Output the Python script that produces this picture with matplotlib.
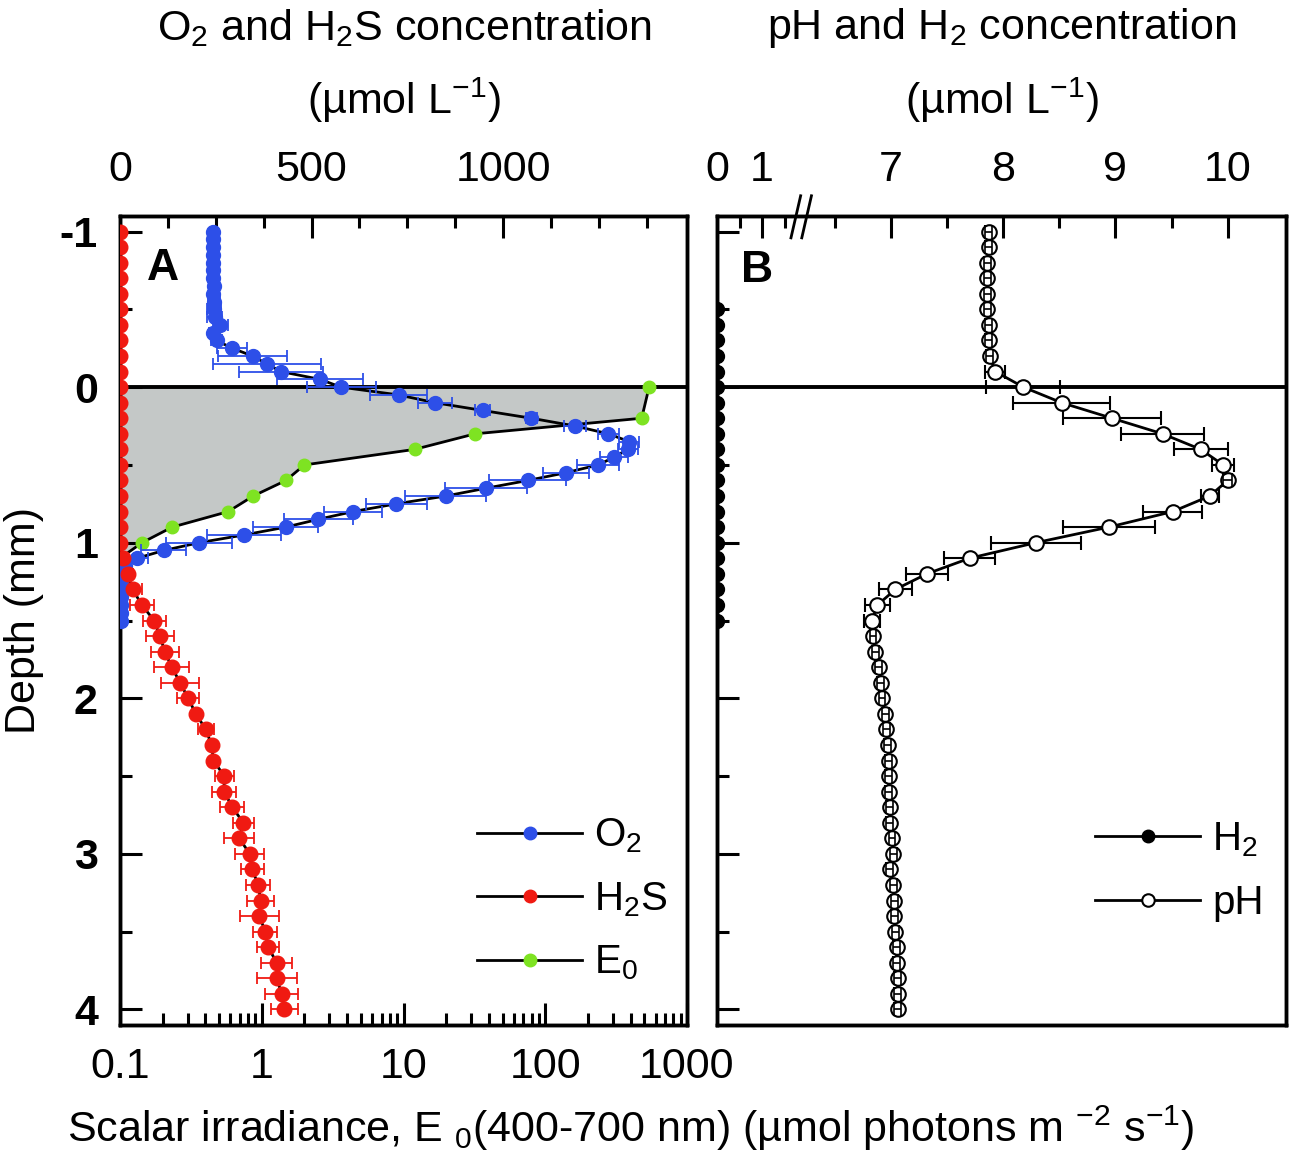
import numpy as np
import matplotlib.pyplot as plt
from matplotlib.lines import Line2D
from matplotlib.ticker import FixedLocator, MultipleLocator, FuncFormatter, NullFormatter

plt.rcParams['font.family'] = ['Liberation Sans', 'DejaVu Sans']
plt.rcParams['mathtext.fontset'] = 'custom'
plt.rcParams['mathtext.rm'] = 'Liberation Sans'
plt.rcParams['mathtext.it'] = 'Liberation Sans:italic'
plt.rcParams['mathtext.bf'] = 'Liberation Sans:bold'

# ---------------- data ----------------
# O2 profile (0.05 mm steps)
o2_depth = np.round(np.arange(-1.0, 1.501, 0.05), 2)
o2_val = [243, 243, 242, 244, 243, 244, 243, 245, 244, 245,
          246, 247, 262, 243, 252, 293, 346, 383, 420, 522,
          577, 727, 822, 947, 1074, 1188, 1275, 1329, 1325, 1290,
          1248, 1164, 1064, 955, 850, 721, 608, 517, 432, 324,
          206, 114, 44, 12, 4, 2, 2, 2, 2, 2, 2]
o2_err = [5, 5, 5, 5, 5, 5, 5, 5, 12, 15,
          18, 20, 20, 10, 15, 39, 91, 141, 109, 111,
          90, 75, 45, 20, 15, 28, 28, 27, 26, 37,
          55, 60, 100, 107, 105, 80, 75, 90, 85, 97,
          87, 59, 30, 15, 5, 5, 5, 5, 5, 5, 5]

# H2S profile (0.1 mm steps)
h2s_depth = np.round(np.arange(-1.0, 4.001, 0.1), 1)
h2s_val = [0] * 21 + [8, 20, 33, 57, 89, 104, 117, 135, 157, 178,
                      198, 224, 239, 244, 272, 272, 293, 322, 311, 339,
                      345, 361, 367, 364, 379, 387, 409, 409, 422, 429]
h2s_err = [0] * 21 + [5, 15, 25, 32, 30, 37, 37, 46, 49, 28,
                      10, 21, 10, 10, 25, 31, 31, 28, 39, 38,
                      30, 31, 35, 52, 31, 29, 40, 52, 43, 36]

# scalar irradiance
e0_depth = [0.0, 0.2, 0.3, 0.4, 0.5, 0.6, 0.7, 0.8, 0.9, 1.0, 1.1]
e0_val = [540, 479, 32, 12, 2.0, 1.48, 0.87, 0.58, 0.233, 0.143, 0.1]

# pH profile (0.1 mm steps)
ph_depth = np.round(np.arange(-1.0, 4.001, 0.1), 1)
ph_val = [7.87, 7.87, 7.86, 7.86, 7.86, 7.86, 7.87, 7.87, 7.88, 7.93,
          8.18, 8.52, 8.97, 9.42, 9.76, 9.96, 10.0, 9.84, 9.51, 8.94,
          8.29, 7.70, 7.32, 7.04, 6.88, 6.83, 6.84, 6.86, 6.89, 6.91,
          6.92, 6.95, 6.96, 6.97, 6.98, 6.98, 6.98, 6.99, 6.99, 7.01,
          7.02, 6.99, 7.02, 7.03, 7.03, 7.04, 7.05, 7.05, 7.06, 7.06, 7.06]
ph_err = [0.03] * 9 + [0.09, 0.33, 0.43, 0.44, 0.37, 0.24, 0.10, 0.04, 0.08,
                       0.26, 0.41, 0.40, 0.23, 0.19, 0.15, 0.11, 0.07] + [0.03] * 25

# H2 profile
h2_depth = np.round(np.arange(-0.5, 1.501, 0.1), 1)
h2_val = [0] * len(h2_depth)

# ---------------- style ----------------
blue = '#2d4fe8'
red = '#f01a12'
green = '#7ee322'
grey = '#c4c8c7'
fs = 31
lfs = 29
W, H = 1294, 1165

fig = plt.figure(figsize=(W / 100, H / 100), dpi=100)
ax_e = fig.add_axes([120 / W, 1 - 1025 / H, 567 / W, 809 / H])
ax_c = ax_e.twiny()
ax_p = fig.add_axes([717 / W, 1 - 1025 / H, 569 / W, 809 / H])
ax_h = ax_p.twiny()


def style_ticks(ax, **kw):
    ax.tick_params(which='major', direction='in', length=16, width=2.2, labelsize=fs, **kw)
    ax.tick_params(which='minor', direction='in', length=8.5, width=2.2, **kw)


for ax in (ax_e, ax_c, ax_p, ax_h):
    for s in ax.spines.values():
        s.set_linewidth(2.5)

# ---------------- panel A ----------------
ax_e.set_xscale('log')
ax_e.set_xlim(0.1, 1000)
ax_e.set_ylim(4.1, -1.1)
ax_e.fill_betweenx(e0_depth, ax_e.get_xlim()[0], e0_val, color=grey, lw=0, zorder=1)
ax_e.axhline(0, color='k', lw=2.8, zorder=2)
ax_e.plot(e0_val, e0_depth, '-', color='k', lw=2, zorder=3)
ax_e.plot(e0_val, e0_depth, 'o', ms=9, mfc=green, mec=green, zorder=4)
ax_e.xaxis.set_major_formatter(FuncFormatter(lambda v, p: '%g' % v))
ax_e.yaxis.set_major_locator(MultipleLocator(1))
ax_e.yaxis.set_minor_locator(MultipleLocator(0.5))
ax_e.yaxis.set_major_formatter(FuncFormatter(lambda v, p: '%d' % v))
style_ticks(ax_e, bottom=True, top=False, left=True, right=False, pad=16)
for lab in ax_e.get_yticklabels():
    lab.set_fontweight('bold')

ax_c.set_xlim(0, 1480)
ax_c.xaxis.set_major_locator(FixedLocator([0, 500, 1000]))
ax_c.xaxis.set_minor_locator(MultipleLocator(125))
style_ticks(ax_c, top=True, bottom=False, pad=19)

ax_c.plot(o2_val, o2_depth, '-', color='k', lw=2, zorder=2)
ax_c.errorbar(o2_val, o2_depth, xerr=o2_err, fmt='none', ecolor=blue,
              elinewidth=1.3, capsize=4, capthick=1.3, zorder=3)
ax_c.plot(o2_val, o2_depth, 'o', ms=10, mfc=blue, mec=blue, zorder=4)

ax_c.plot(h2s_val, h2s_depth, '-', color='k', lw=2, zorder=2)
ax_c.errorbar(h2s_val, h2s_depth, xerr=h2s_err, fmt='none', ecolor=red,
              elinewidth=1.3, capsize=4, capthick=1.3, zorder=3)
ax_c.plot(h2s_val, h2s_depth, 'o', ms=10.5, mfc=red, mec=red, zorder=4)

handles_a = [Line2D([], [], color='k', lw=2, marker='o', ms=9, mfc=c, mec=c) for c in (blue, red, green)]
ax_e.legend(handles_a, ['O$_2$', 'H$_2$S', 'E$_0$'], loc='center left',
            bbox_to_anchor=(0.63, 0.155), frameon=False, fontsize=lfs,
            handlelength=2.6, handletextpad=0.3, labelspacing=0.62,
            borderpad=0, borderaxespad=0)

# ---------------- panel B ----------------
ax_p.set_xlim(5.45, 10.52)
ax_p.set_ylim(4.1, -1.1)
ax_p.xaxis.tick_top()
ax_p.xaxis.set_major_locator(FixedLocator([7, 8, 9, 10]))
ax_p.xaxis.set_minor_locator(FixedLocator([6.5, 7.5, 8.5, 9.5]))
ax_p.yaxis.set_major_locator(MultipleLocator(1))
ax_p.yaxis.set_minor_locator(MultipleLocator(0.5))
ax_p.yaxis.set_major_formatter(NullFormatter())
style_ticks(ax_p, top=True, bottom=False, left=True, right=False,
            labeltop=True, labelbottom=False, labelleft=False, pad=19)
ax_p.axhline(0, color='k', lw=2.8, zorder=1)

ph_err_arr = np.array(ph_err)
ax_p.plot(ph_val, ph_depth, '-', color='k', lw=2, zorder=2)
ax_p.errorbar(ph_val, ph_depth, xerr=ph_err, fmt='none', ecolor='k',
              elinewidth=1.5, capsize=5, capthick=1.5, zorder=2.5)
ax_p.plot(ph_val, ph_depth, 'o', ms=10.5, mfc='white', mec='k', mew=1.5, zorder=3)
small = ph_err_arr < 0.06
ax_p.errorbar(np.array(ph_val)[small], ph_depth[small], xerr=ph_err_arr[small],
              fmt='none', ecolor='k', elinewidth=1.2, capsize=5, capthick=1.2, zorder=3.5)

ax_h.set_xlim(0, 12.6)
ax_h.xaxis.set_major_locator(FixedLocator([0, 1]))
ax_h.xaxis.set_minor_locator(FixedLocator([0.5, 1.5]))
style_ticks(ax_h, top=True, bottom=False, pad=19)
ax_h.plot(h2_val, h2_depth, 'o', ms=10, mfc='k', mec='k', zorder=4)

# axis break marks
for x0 in (0.130, 0.149):
    ax_p.plot([x0, x0 + 0.017], [0.973, 1.025], color='k', lw=2,
              transform=ax_p.transAxes, clip_on=False, zorder=6)

handles_b = [Line2D([], [], color='k', lw=2, marker='o', ms=9, mfc='k', mec='k'),
             Line2D([], [], color='k', lw=2, marker='o', ms=9, mfc='white', mec='k', mew=1.5)]
ax_p.legend(handles_b, ['H$_2$', 'pH'], loc='center left',
            bbox_to_anchor=(0.665, 0.19), frameon=False, fontsize=lfs,
            handlelength=2.6, handletextpad=0.3, labelspacing=0.62,
            borderpad=0, borderaxespad=0)

# ---------------- labels ----------------
fig.text(163 / W, 1 - 269 / H, 'A', fontsize=32, fontweight='bold', ha='center', va='center')
fig.text(757 / W, 1 - 270 / H, 'B', fontsize=32, fontweight='bold', ha='center', va='center')

fig.text(404 / W, 1 - 28 / H, 'O$_2$ and H$_2$S concentration', fontsize=fs, ha='center', va='center')
fig.text(404 / W, 1 - 100 / H, '(µmol L$^{-1}$)', fontsize=fs, ha='center', va='center')
fig.text(1002 / W, 1 - 28 / H, 'pH and H$_2$ concentration', fontsize=fs, ha='center', va='center')
fig.text(1002 / W, 1 - 100 / H, '(µmol L$^{-1}$)', fontsize=fs, ha='center', va='center')

fig.text(631 / W, 1 - 1128 / H,
         'Scalar irradiance, E $_0$(400-700 nm) (µmol photons m $^{-2}$ s$^{-1}$)',
         fontsize=fs, ha='center', va='center')
fig.text(24 / W, 1 - 620 / H, 'Depth (mm)', fontsize=fs, rotation=90, ha='center', va='center')

fig.savefig('out.png', dpi=100)
